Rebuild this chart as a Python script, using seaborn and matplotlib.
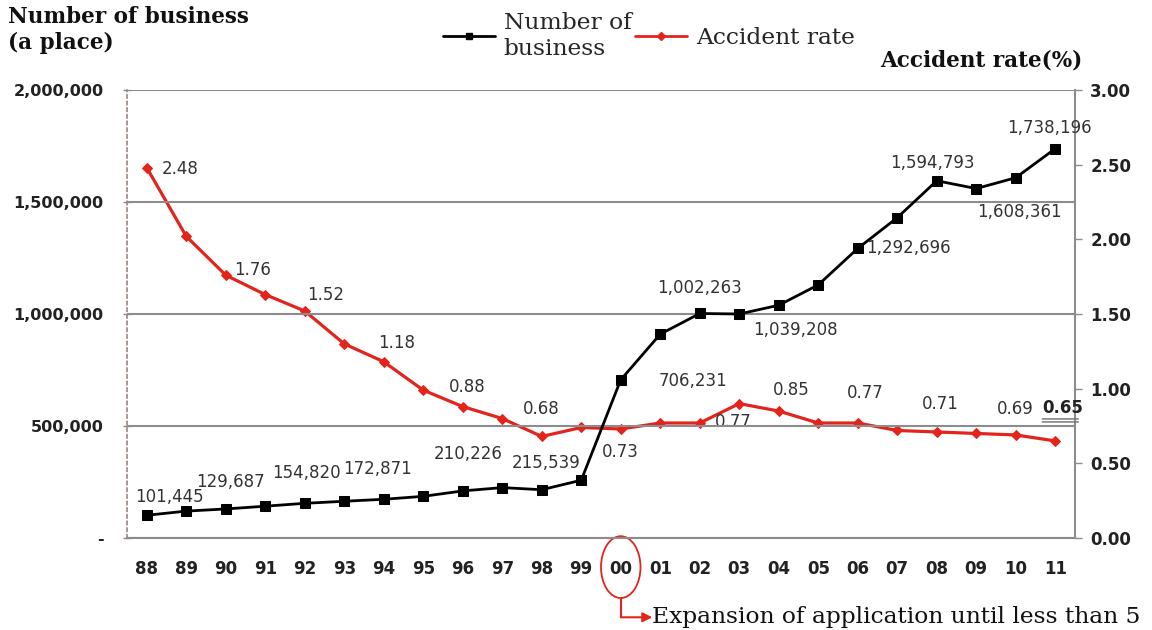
import matplotlib
matplotlib.use("Agg")
import matplotlib.pyplot as plt
import seaborn as sns
import pandas as pd
import numpy as np
from matplotlib.patches import Ellipse, FancyArrowPatch
from matplotlib.lines import Line2D
from matplotlib import transforms

# ---- data -------------------------------------------------------------
years = ["88", "89", "90", "91", "92", "93", "94", "95", "96", "97", "98", "99",
         "00", "01", "02", "03", "04", "05", "06", "07", "08", "09", "10", "11"]
businesses = [101445, 120000, 129687, 142000, 154820, 164000, 172871, 186000,
              210226, 225000, 215539, 258000, 706231, 910000, 1002263, 1000000,
              1039208, 1130000, 1292696, 1430000, 1594793, 1560000, 1608361, 1738196]
accident_rate = [2.48, 2.02, 1.76, 1.63, 1.52, 1.30, 1.18, 0.99, 0.88, 0.80, 0.68, 0.74,
                 0.73, 0.77, 0.77, 0.90, 0.85, 0.77, 0.77, 0.72, 0.71, 0.70, 0.69, 0.65]
left_ticks = [0, 500000, 1000000, 1500000, 2000000]
left_tick_labels = ["-", "500,000", "1,000,000", "1,500,000", "2,000,000"]
right_ticks = [0.0, 0.5, 1.0, 1.5, 2.0, 2.5, 3.0]
note_year = "00"
note_text = "Expansion of application until less than 5"

# label placement: index -> (dx, dy in pixels, horizontal alignment)
biz_label_layout = {0: (23, 18, "center"), 2: (5, 27, "center"), 4: (2, 30, "center"),
                    6: (-6, 30, "center"), 8: (5, 37, "center"), 10: (4, 27, "center"),
                    12: (38, -1, "left"), 14: (0, 25, "center"), 16: (17, -25, "center"),
                    18: (8, 0, "left"), 20: (-4, 18, "center"), 22: (4, -34, "center"),
                    23: (-6, 21, "center")}
rate_label_layout = {0: (15, -1, "left"), 2: (8, 5, "left"), 4: (21, 16, "center"),
                     6: (13, 19, "center"), 8: (5, 20, "center"), 10: (0, 27, "center"),
                     12: (0, -23, "center"), 14: (33, 1, "center"), 16: (12, 21, "center"),
                     18: (8, 30, "center"), 20: (4, 28, "center"), 22: (0, 26, "center"),
                     23: (7, 33, "center")}

df = pd.DataFrame({"idx": np.arange(len(years)), "business": businesses,
                   "rate": accident_rate})

# ---- style ------------------------------------------------------------
sns.set_style("white")
plt.rcParams["font.family"] = ["DejaVu Sans"]
GRID = "#8c8c8c"
RED = "#e3241c"
LABEL = "#333333"
SERIF = "DejaVu Serif"

fig = plt.figure(figsize=(11.52, 6.30), dpi=100)
W, H = 1152, 630
ax = fig.add_axes([127 / W, 92 / H, 948 / W, 448 / H])
ax2 = ax.twinx()

# ---- lines ------------------------------------------------------------
sns.lineplot(data=df, x="idx", y="rate", ax=ax2, color=RED, marker="D",
             markersize=5, markeredgecolor=RED, linewidth=2.3, legend=False)
sns.lineplot(data=df, x="idx", y="business", ax=ax, color="black", marker="s",
             markersize=6.5, markeredgecolor="black", linewidth=2.0, legend=False)
ax.set_zorder(ax2.get_zorder() + 1)
ax.patch.set_visible(False)

# ---- axes -------------------------------------------------------------
ax.set_xlim(-0.5, len(years) - 0.5)
ax.set_ylim(0, 2000000)
ax2.set_ylim(0, 3.0)

ax.set_xticks(np.arange(len(years)))
ax.set_xticklabels(years, fontsize=12, fontweight="bold", color="#222222")
ax.set_xticks(np.arange(-0.5, len(years), 1.0), minor=True)
ax.tick_params(axis="x", which="major", length=0, pad=16)
ax.tick_params(axis="x", which="minor", length=7, direction="inout", color=GRID, width=1)

ax.set_yticks(left_ticks)
ax.set_yticklabels(left_tick_labels, fontsize=11.5, fontweight="bold", color="#222222")
ax.tick_params(axis="y", length=6, direction="inout", color=GRID, width=1, pad=14)

ax2.set_yticks(right_ticks)
ax2.set_yticklabels([f"{v:.2f}" for v in right_ticks], fontsize=12,
                    fontweight="bold", color="#222222")
ax2.tick_params(axis="y", length=5, direction="out", color=GRID, width=1, pad=6)

ax.set_xlabel("")
ax.set_ylabel("")
ax2.set_ylabel("")

ax.grid(axis="y", color=GRID, linewidth=1.5, zorder=0)
ax.grid(axis="x", visible=False)
ax2.grid(False)

for s in ("top", "right"):
    ax.spines[s].set_visible(False)
ax.spines["left"].set_color("#9a8580")
ax.spines["left"].set_linestyle((0, (2, 2)))
ax.spines["left"].set_linewidth(1.2)
ax.spines["bottom"].set_color(GRID)
ax.spines["bottom"].set_linewidth(1.5)
for s in ("top", "left", "bottom"):
    ax2.spines[s].set_visible(False)
ax2.spines["right"].set_color(GRID)
ax2.spines["right"].set_linewidth(1.5)

# ---- value labels -----------------------------------------------------
for i, (dx, dy, ha) in biz_label_layout.items():
    ax.annotate(f"{businesses[i]:,}", (i, businesses[i]), xytext=(dx, dy),
                textcoords="offset pixels", ha=ha, va="center", fontsize=12,
                color=LABEL)
for i, (dx, dy, ha) in rate_label_layout.items():
    last = i == len(years) - 1
    ax2.annotate(f"{accident_rate[i]:.2f}", (i, accident_rate[i]), xytext=(dx, dy),
                 textcoords="offset pixels", ha=ha, va="center", fontsize=12,
                 color="#222222" if last else LABEL,
                 fontweight="bold" if last else "normal")

# double underline under the latest rate
last_i = len(years) - 1
for dy in (19, 22):
    tr_a = transforms.offset_copy(ax2.transData, fig=fig, x=-13, y=dy, units="dots")
    tr_b = transforms.offset_copy(ax2.transData, fig=fig, x=23, y=dy, units="dots")
    ax2.annotate("", xy=(last_i, accident_rate[last_i]), xycoords=tr_b,
                 xytext=(last_i, accident_rate[last_i]), textcoords=tr_a,
                 arrowprops=dict(arrowstyle="-", color="#7a7a7a", lw=1.1,
                                 shrinkA=0, shrinkB=0))

# ---- titles -----------------------------------------------------------
fig.text(8 / W, 1 - 6 / H, "Number of business\n(a place)", ha="left", va="top",
         fontsize=15.5, fontweight="bold", family=SERIF, linespacing=1.2,
         color="#111111")
fig.text(1082 / W, 1 - 61 / H, "Accident rate(%)", ha="right", va="center",
         fontsize=15.5, fontweight="bold", family=SERIF, color="#111111")

# ---- legend -----------------------------------------------------------
handles = [Line2D([], [], color="black", marker="s", markersize=5, linewidth=2),
           Line2D([], [], color=RED, marker="D", markersize=4, linewidth=2)]
fig.legend(handles, ["Number of\nbusiness", "Accident rate"], loc="center",
           bbox_to_anchor=(649 / W, 1 - 36 / H), ncol=2, frameon=False,
           prop={"family": SERIF, "size": 16.8}, handlelength=2.2,
           handletextpad=0.4, columnspacing=0.15, labelspacing=0.2)

# ---- note under the year axis -----------------------------------------
xi = years.index(note_year)
blend = transforms.blended_transform_factory(ax.transData, ax.transAxes)
ax.add_patch(Ellipse((xi, -0.065), width=1.0, height=0.138, transform=blend,
                     fill=False, edgecolor=RED, linewidth=1.3, clip_on=False))
ax.add_line(Line2D([xi, xi], [-0.134, -0.177], transform=blend, color=RED,
                   linewidth=1.5, clip_on=False))
ax.add_patch(FancyArrowPatch((xi, -0.177), (xi + 0.8, -0.177), transform=blend,
                             arrowstyle="-|>", mutation_scale=14, color=RED,
                             linewidth=1.5, shrinkA=0, shrinkB=0, clip_on=False))
ax.text(xi + 0.8, -0.177, note_text, transform=blend, ha="left", va="center",
        fontsize=16.8, family=SERIF, color="#111111")

fig.savefig("out.png", dpi=100)
